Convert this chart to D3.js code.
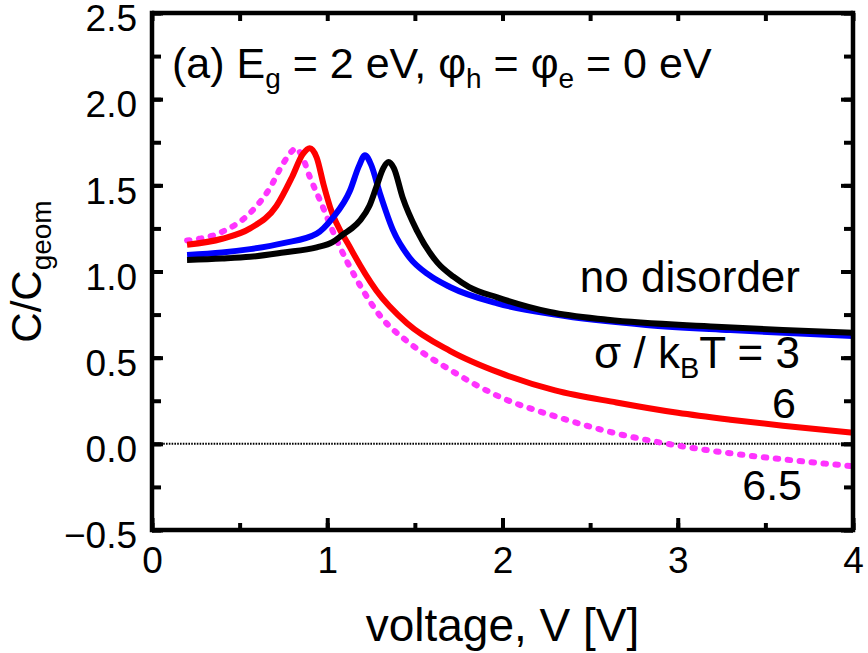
<!DOCTYPE html>
<html>
  <head>
    <meta charset="utf-8">
    <style>
      body {
          margin: 0;
          background: #fff;
          font-family: "Liberation Sans", Arial, sans-serif;
      }
      .frame line {
          stroke: #000;
          stroke-width: 4.5px;
      }
      text {
          fill: #000;
      }
    </style>
  </head>
  <body>
    <script src="https://d3js.org/d3.v7.min.js"></script>
    <script>
      // values
      var xTicks = [0, 1, 2, 3, 4];
      var yTicks = [-0.5, 0.0, 0.5, 1.0, 1.5, 2.0, 2.5];

      // no disorder (black)
      var vNoDis = [0.2, 0.4, 0.56, 0.75, 0.94, 1.03, 1.09, 1.14, 1.19, 1.24, 1.28, 1.32, 1.35, 1.38, 1.43, 1.51, 1.63, 1.72, 1.81, 1.97, 2.27, 2.6, 3.22, 3.6, 4.0];
      var cNoDis = [1.067, 1.075, 1.085, 1.11, 1.14, 1.17, 1.215, 1.25, 1.30, 1.38, 1.49, 1.60, 1.635, 1.60, 1.43, 1.24, 1.05, 0.97, 0.91, 0.85, 0.765, 0.72, 0.68, 0.66, 0.645];

      // sigma/kT = 3 (blue)
      var vS3 = [0.2, 0.4, 0.56, 0.75, 0.94, 1.03, 1.13, 1.18, 1.215, 1.25, 1.30, 1.375, 1.47, 1.58, 1.70, 1.97, 2.3, 2.82, 3.3, 4.0];
      var cS3 = [1.096, 1.11, 1.13, 1.165, 1.22, 1.31, 1.47, 1.61, 1.675, 1.62, 1.455, 1.24, 1.08, 0.98, 0.91, 0.815, 0.75, 0.69, 0.66, 0.625];

      // sigma/kT = 6 (red)
      var vS6 = [0.2, 0.4, 0.56, 0.71, 0.80, 0.86, 0.90, 0.94, 0.98, 1.016, 1.13, 1.28, 1.455, 1.7, 1.99, 2.3, 2.65, 3.0, 3.3, 3.6, 4.0];
      var cS6 = [1.155, 1.19, 1.25, 1.38, 1.55, 1.68, 1.715, 1.66, 1.50, 1.374, 1.14, 0.89, 0.70, 0.54, 0.41, 0.31, 0.24, 0.18, 0.14, 0.105, 0.065];

      // sigma/kT = 6.5 (magenta, dashed)
      var vS65 = [0.2, 0.4, 0.56, 0.67, 0.75, 0.80, 0.82, 0.86, 0.90, 0.96, 1.055, 1.17, 1.32, 1.45, 1.7, 1.99, 2.3, 2.65, 3.0, 3.3, 3.6, 4.0];
      var cS65 = [1.18, 1.23, 1.34, 1.48, 1.63, 1.70, 1.716, 1.66, 1.55, 1.41, 1.18, 0.95, 0.72, 0.60, 0.43, 0.27, 0.16, 0.06, -0.01, -0.055, -0.09, -0.13];

      var width = 868, height = 653;

      var svg = d3.select("body").append("svg")
          .attr("width", width)
          .attr("height", height);

      var x = d3.scaleLinear().domain([0, 4]).range([152, 853]);
      var y = d3.scaleLinear().domain([-0.5, 2.5]).range([530, 13]);

      function pairs(vs, cs) {
          return vs.map(function(v, i) { return [v, cs[i]]; });
      }

      var line = d3.line()
          .x(function(d) { return x(d[0]); })
          .y(function(d) { return y(d[1]); })
          .curve(d3.curveMonotoneX);

      // zero reference line
      svg.append("line")
          .attr("x1", x(0)).attr("x2", x(4))
          .attr("y1", y(0)).attr("y2", y(0))
          .style("stroke", "#000")
          .style("stroke-width", 2)
          .style("stroke-dasharray", "1.6,1.2");

      // curves, drawn back to front
      var series = [
          {v: vS65, c: cS65, color: "#ff33ff", dash: "2.5,9.5"},
          {v: vS6, c: cS6, color: "#ff0000", dash: null},
          {v: vS3, c: cS3, color: "#0000ff", dash: null},
          {v: vNoDis, c: cNoDis, color: "#000000", dash: null}
      ];

      svg.append("g").selectAll("path")
          .data(series)
          .enter().append("path")
          .attr("d", function(d) { return line(pairs(d.v, d.c)); })
          .style("fill", "none")
          .style("stroke", function(d) { return d.color; })
          .style("stroke-width", "6px")
          .style("stroke-linejoin", "round")
          .style("stroke-dasharray", function(d) { return d.dash; })
          .style("stroke-linecap", function(d) { return d.dash ? "round" : "butt"; });

      // axes with inward ticks on all four sides
      var fmtY = d3.format(".1f");
      var minorY = d3.range(-0.5, 2.51, 0.25);
      var minorX = d3.range(0, 4.01, 0.5);

      var axBottom = svg.append("g").attr("transform", "translate(0," + y(-0.5) + ")");
      axBottom.call(d3.axisBottom(x).tickValues(minorX).tickSizeInner(-7).tickSizeOuter(0).tickFormat(""));
      axBottom.append("g").call(d3.axisBottom(x).tickValues(xTicks).tickSizeInner(-12).tickSizeOuter(0).tickFormat(d3.format("d")));

      var axTop = svg.append("g").attr("transform", "translate(0," + y(2.5) + ")");
      axTop.call(d3.axisTop(x).tickValues(minorX).tickSizeInner(-8).tickSizeOuter(0).tickFormat(""));

      var axLeft = svg.append("g").attr("transform", "translate(" + x(0) + ",0)");
      axLeft.call(d3.axisLeft(y).tickValues(minorY).tickSizeInner(-9).tickSizeOuter(0).tickFormat(""));
      axLeft.append("g").call(d3.axisLeft(y).tickValues(yTicks).tickSizeInner(-11).tickSizeOuter(0).tickFormat(fmtY));

      var axRight = svg.append("g").attr("transform", "translate(" + x(4) + ",0)");
      axRight.call(d3.axisRight(y).tickValues(minorY).tickSizeInner(-9).tickSizeOuter(0).tickFormat(""));
      axRight.append("g").call(d3.axisRight(y).tickValues(yTicks).tickSizeInner(-12).tickSizeOuter(0).tickFormat(""));

      svg.selectAll(".domain").remove();
      svg.selectAll(".tick line")
          .style("stroke", "#000")
          .style("stroke-width", 4);

      axBottom.selectAll(".tick text")
          .attr("y", 17)
          .attr("dy", "0.71em")
          .style("font-family", "Liberation Sans, Arial, sans-serif")
          .style("font-size", "37px");
      axLeft.selectAll(".tick text")
          .attr("x", -15)
          .attr("dy", "0.48em")
          .style("font-family", "Liberation Sans, Arial, sans-serif")
          .style("font-size", "37px");

      // frame
      var frame = svg.append("g").attr("class", "frame");
      frame.append("line").attr("x1", x(0)).attr("x2", x(4)).attr("y1", y(2.5)).attr("y2", y(2.5));
      frame.append("line").attr("x1", x(0)).attr("x2", x(4)).attr("y1", y(-0.5)).attr("y2", y(-0.5));
      frame.append("line").attr("x1", x(0)).attr("x2", x(0)).attr("y1", y(2.5) - 2.2).attr("y2", y(-0.5) + 2.2);
      frame.append("line").attr("x1", x(4)).attr("x2", x(4)).attr("y1", y(2.5) - 2.2).attr("y2", y(-0.5) + 2.2);

      // axis titles
      svg.append("text")
          .attr("x", (x(0) + x(4)) / 2)
          .attr("y", 641)
          .attr("text-anchor", "middle")
          .style("font-size", "46px")
          .text("voltage, V [V]");

      var ylab = svg.append("text")
          .attr("transform", "translate(41," + ((y(2.5) + y(-0.5)) / 2) + ") rotate(-90)")
          .attr("text-anchor", "middle")
          .style("font-size", "42px");
      ylab.append("tspan").text("C/C");
      ylab.append("tspan").attr("dy", 10).style("font-size", "28px").text("geom");

      // panel annotation
      var ann = svg.append("text")
          .attr("x", 172)
          .attr("y", 78)
          .style("font-size", "43px");
      ann.append("tspan").text("(a) E");
      ann.append("tspan").attr("dy", 10).style("font-size", "28px").text("g");
      ann.append("tspan").attr("dy", -10).text(" = 2 eV, \u03c6");
      ann.append("tspan").attr("dy", 10).style("font-size", "28px").text("h");
      ann.append("tspan").attr("dy", -10).text(" = \u03c6");
      ann.append("tspan").attr("dy", 10).style("font-size", "28px").text("e");
      ann.append("tspan").attr("dy", -10).text(" = 0 eV");

      // curve labels
      svg.append("text")
          .attr("x", 800).attr("y", 292)
          .attr("text-anchor", "end")
          .style("font-size", "44px")
          .text("no disorder");

      var sig = svg.append("text")
          .attr("x", 800).attr("y", 368)
          .attr("text-anchor", "end")
          .style("font-size", "44px");
      sig.append("tspan").text("\u03c3 / k");
      sig.append("tspan").attr("dy", 10).style("font-size", "29px").text("B");
      sig.append("tspan").attr("dy", -10).text("T = 3");

      svg.append("text")
          .attr("x", 796).attr("y", 418)
          .attr("text-anchor", "end")
          .style("font-size", "43px")
          .text("6");

      svg.append("text")
          .attr("x", 802).attr("y", 500)
          .attr("text-anchor", "end")
          .style("font-size", "43px")
          .text("6.5");
    </script>
  </body>
</html>
